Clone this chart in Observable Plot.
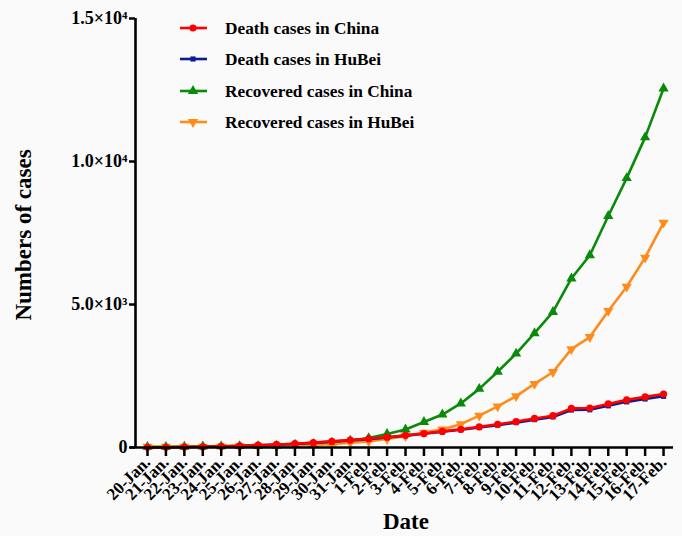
<!DOCTYPE html>
<html>
<head>
<meta charset="utf-8">
<script src="https://cdn.jsdelivr.net/npm/d3@7"></script>
<script src="https://cdn.jsdelivr.net/npm/@observablehq/plot@0.6"></script>
<style>
  html, body { margin: 0; padding: 0; background: #fafafa; }
  #chart svg { display: block; background: #fafafa; }
</style>
</head>
<body>
<div id="chart"></div>
<script>
const dates = ["20-Jan.","21-Jan.","22-Jan.","23-Jan.","24-Jan.","25-Jan.","26-Jan.","27-Jan.","28-Jan.","29-Jan.","30-Jan.","31-Jan.",
  "1-Feb.","2-Feb.","3-Feb.","4-Feb.","5-Feb.","6-Feb.","7-Feb.","8-Feb.","9-Feb.","10-Feb.","11-Feb.","12-Feb.","13-Feb.","14-Feb.","15-Feb.","16-Feb.","17-Feb."];

const deathChina = [6,9,17,25,41,56,80,106,132,170,213,259,304,361,425,490,563,636,722,811,908,1016,1113,1367,1380,1523,1665,1770,1868];
const deathHubei = [6,9,17,24,39,52,76,100,125,162,204,249,294,350,414,479,549,618,699,780,871,974,1068,1310,1318,1457,1596,1696,1789];
const recChina   = [25,25,28,34,38,49,51,60,103,124,171,243,328,475,632,892,1153,1540,2050,2649,3281,3996,4740,5911,6723,8096,9419,10844,12552];
const recHubei   = [25,25,28,31,32,42,44,47,80,90,116,166,215,295,396,520,633,817,1115,1439,1795,2222,2639,3441,3862,4774,5623,6639,7862];

const seriesNames = ["Death cases in China","Death cases in HuBei","Recovered cases in China","Recovered cases in HuBei"];
const seriesColors = ["#ff0000","#0d1b8c","#0a8a0a","#ff8c1a"];
const yTicks = [0, 5000, 10000, 15000];
const yTickLabels = ["0", "5.0×10³", "1.0×10⁴", "1.5×10⁴"];

// downward triangle symbol
const triangleDown = {
  draw(context, size) {
    const s3 = Math.sqrt(3);
    const y = -Math.sqrt(size / (s3 * 3));
    context.moveTo(0, -y * 2);
    context.lineTo(-s3 * y, y);
    context.lineTo(s3 * y, y);
    context.closePath();
  }
};
const symbols = ["circle", "square", "triangle", triangleDown];
const radii = [3.6, 2.9, 3.8, 3.8];

const allSeries = [deathChina, deathHubei, recChina, recHubei];
const table = [];
allSeries.forEach((vals, s) => vals.forEach((v, i) => table.push({i, v, s})));

const drawOrder = [2, 3, 1, 0];
const xDomain = [-0.651, 28.54];

const marks = [];
for (const s of drawOrder) {
  const d = table.filter(r => r.s === s);
  marks.push(Plot.line(d, {x: "i", y: "v", stroke: seriesColors[s], strokeWidth: 2.6}));
  marks.push(Plot.dot(d, {x: "i", y: "v", fill: seriesColors[s], stroke: "none", r: radii[s], symbol: () => symbols[s]}));
}

const plot = Plot.plot({
  width: 682,
  height: 536,
  marginLeft: 135,
  marginRight: 9,
  marginTop: 18,
  marginBottom: 89,
  style: {fontFamily: "'Liberation Serif', 'Times New Roman', serif", background: "#fafafa", overflow: "visible"},
  x: {type: "linear", domain: xDomain},
  y: {domain: [0, 15000]},
  symbol: {type: "identity"},
  marks: [
    ...marks,
    Plot.ruleY([0], {stroke: "#000", strokeWidth: 2.6, insetLeft: -5}),
    Plot.ruleX([xDomain[0]], {stroke: "#000", strokeWidth: 2.6}),
    Plot.axisX(d3.range(dates.length), {
      tickFormat: i => dates[i], tickSize: 9, tickPadding: 3, tickRotate: -45,
      strokeWidth: 2.5, fontSize: 17, fontWeight: "bold", fill: "#000", label: null
    }),
    Plot.axisY(yTicks, {
      tickFormat: v => yTickLabels[yTicks.indexOf(v)], tickSize: 6, tickPadding: 2,
      strokeWidth: 2.5, fontSize: 18, fontWeight: "bold", fill: "#000", label: null
    })
  ]
});

document.getElementById("chart").appendChild(plot);

const svg = d3.select(plot);
// axis titles
svg.append("text")
  .attr("transform", "translate(31,235) rotate(-90)")
  .attr("text-anchor", "middle")
  .style("font-family", "'Liberation Serif', serif")
  .style("font-weight", "bold").style("font-size", "23px")
  .text("Numbers of cases");
svg.append("text")
  .attr("x", 406).attr("y", 529)
  .attr("text-anchor", "middle")
  .style("font-family", "'Liberation Serif', serif")
  .style("font-weight", "bold").style("font-size", "23px")
  .text("Date");

// legend
const legendRows = [28, 59, 91, 122];
const lg = svg.append("g");
seriesNames.forEach((name, s) => {
  const y = legendRows[s];
  const g = lg.append("g");
  g.append("line").attr("x1", 180).attr("x2", 207).attr("y1", y).attr("y2", y)
    .attr("stroke", seriesColors[s]).attr("stroke-width", 2.6);
  const sym = typeof symbols[s] === "string"
    ? {circle: d3.symbolCircle, square: d3.symbolSquare, triangle: d3.symbolTriangle}[symbols[s]]
    : symbols[s];
  g.append("path").attr("transform", `translate(193,${y})`)
    .attr("d", d3.symbol(sym, Math.PI * radii[s] * radii[s])())
    .attr("fill", seriesColors[s]);
  g.append("text").attr("x", 225).attr("y", y).attr("dy", "0.35em")
    .attr("text-anchor", "start")
    .style("font-family", "'Liberation Serif', serif")
    .style("font-weight", "bold").style("font-size", "17.3px")
    .text(name);
});
</script>
</body>
</html>
